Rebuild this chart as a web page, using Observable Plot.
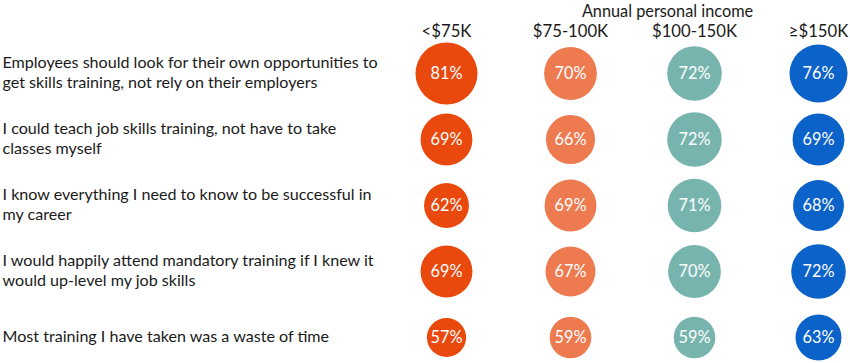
<!DOCTYPE html>
<html>
<head>
<meta charset="utf-8">
<script src="https://cdn.jsdelivr.net/npm/d3@7"></script>
<script src="https://cdn.jsdelivr.net/npm/@observablehq/plot@0.6"></script>
<style>
  html, body { margin: 0; padding: 0; background: #fff; }
  svg { display: block; }
</style>
</head>
<body>
<div id="chart"></div>
<script>
const title = "Annual personal income";
const incomes = ["<$75K", "$75-100K", "$100-150K", "≥$150K"];
const statements = [
  "Employees should look for their own opportunities to\nget skills training, not rely on their employers",
  "I could teach job skills training, not have to take\nclasses myself",
  "I know everything I need to know to be successful in\nmy career",
  "I would happily attend mandatory training if I knew it\nwould up-level my job skills",
  "Most training I have taken was a waste of time"
];
const valuesLt75 = [81, 69, 62, 69, 57];
const values75to100 = [70, 66, 69, 67, 59];
const values100to150 = [72, 72, 71, 70, 59];
const valuesGe150 = [76, 69, 68, 72, 63];
const colors = ["#E9490D", "#EE7A50", "#78B4AE", "#0B62C9"];

const series = [valuesLt75, values75to100, values100to150, valuesGe150];
const data = [];
incomes.forEach((inc, i) => {
  statements.forEach((s, j) => data.push({income: inc, statement: s, value: series[i][j]}));
});

const font = "Lato, 'Open Sans', sans-serif";

const chart = Plot.plot({
  width: 850,
  height: 363,
  marginLeft: 445,
  marginRight: 32,
  marginTop: 72,
  marginBottom: 25,
  style: {fontFamily: font, background: "#fff"},
  x: {type: "point", domain: incomes, padding: 0, axis: null},
  y: {type: "point", domain: statements, padding: 0, axis: null},
  r: {type: "sqrt", domain: [0, 40], range: [0, 31]},
  color: {domain: incomes, range: colors},
  marks: [
    Plot.dot(data, {
      x: "income", y: "statement",
      r: d => d.value - 41,
      fill: "income", stroke: null
    }),
    Plot.text(data, {
      x: "income", y: "statement",
      text: d => d.value + "%",
      fill: "white", fontSize: 16.3
    }),
    Plot.text(statements, {
      y: d => d,
      text: d => d,
      frameAnchor: "left",
      textAnchor: "start",
      dx: -443,
      dy: -1.5,
      fontSize: 16.1,
      lineHeight: 1.22,
      fill: "#1a1a1a"
    }),
    Plot.text(incomes, {
      x: d => d,
      text: d => d,
      frameAnchor: "top",
      dy: -47,
      fontSize: 16.7,
      fill: "#1a1a1a"
    }),
    Plot.text([title], {
      text: d => d,
      frameAnchor: "top-right",
      textAnchor: "middle",
      dx: -151,
      dy: -67,
      fontSize: 16.3,
      fill: "#1a1a1a"
    })
  ]
});
document.getElementById("chart").append(chart);
</script>
</body>
</html>
